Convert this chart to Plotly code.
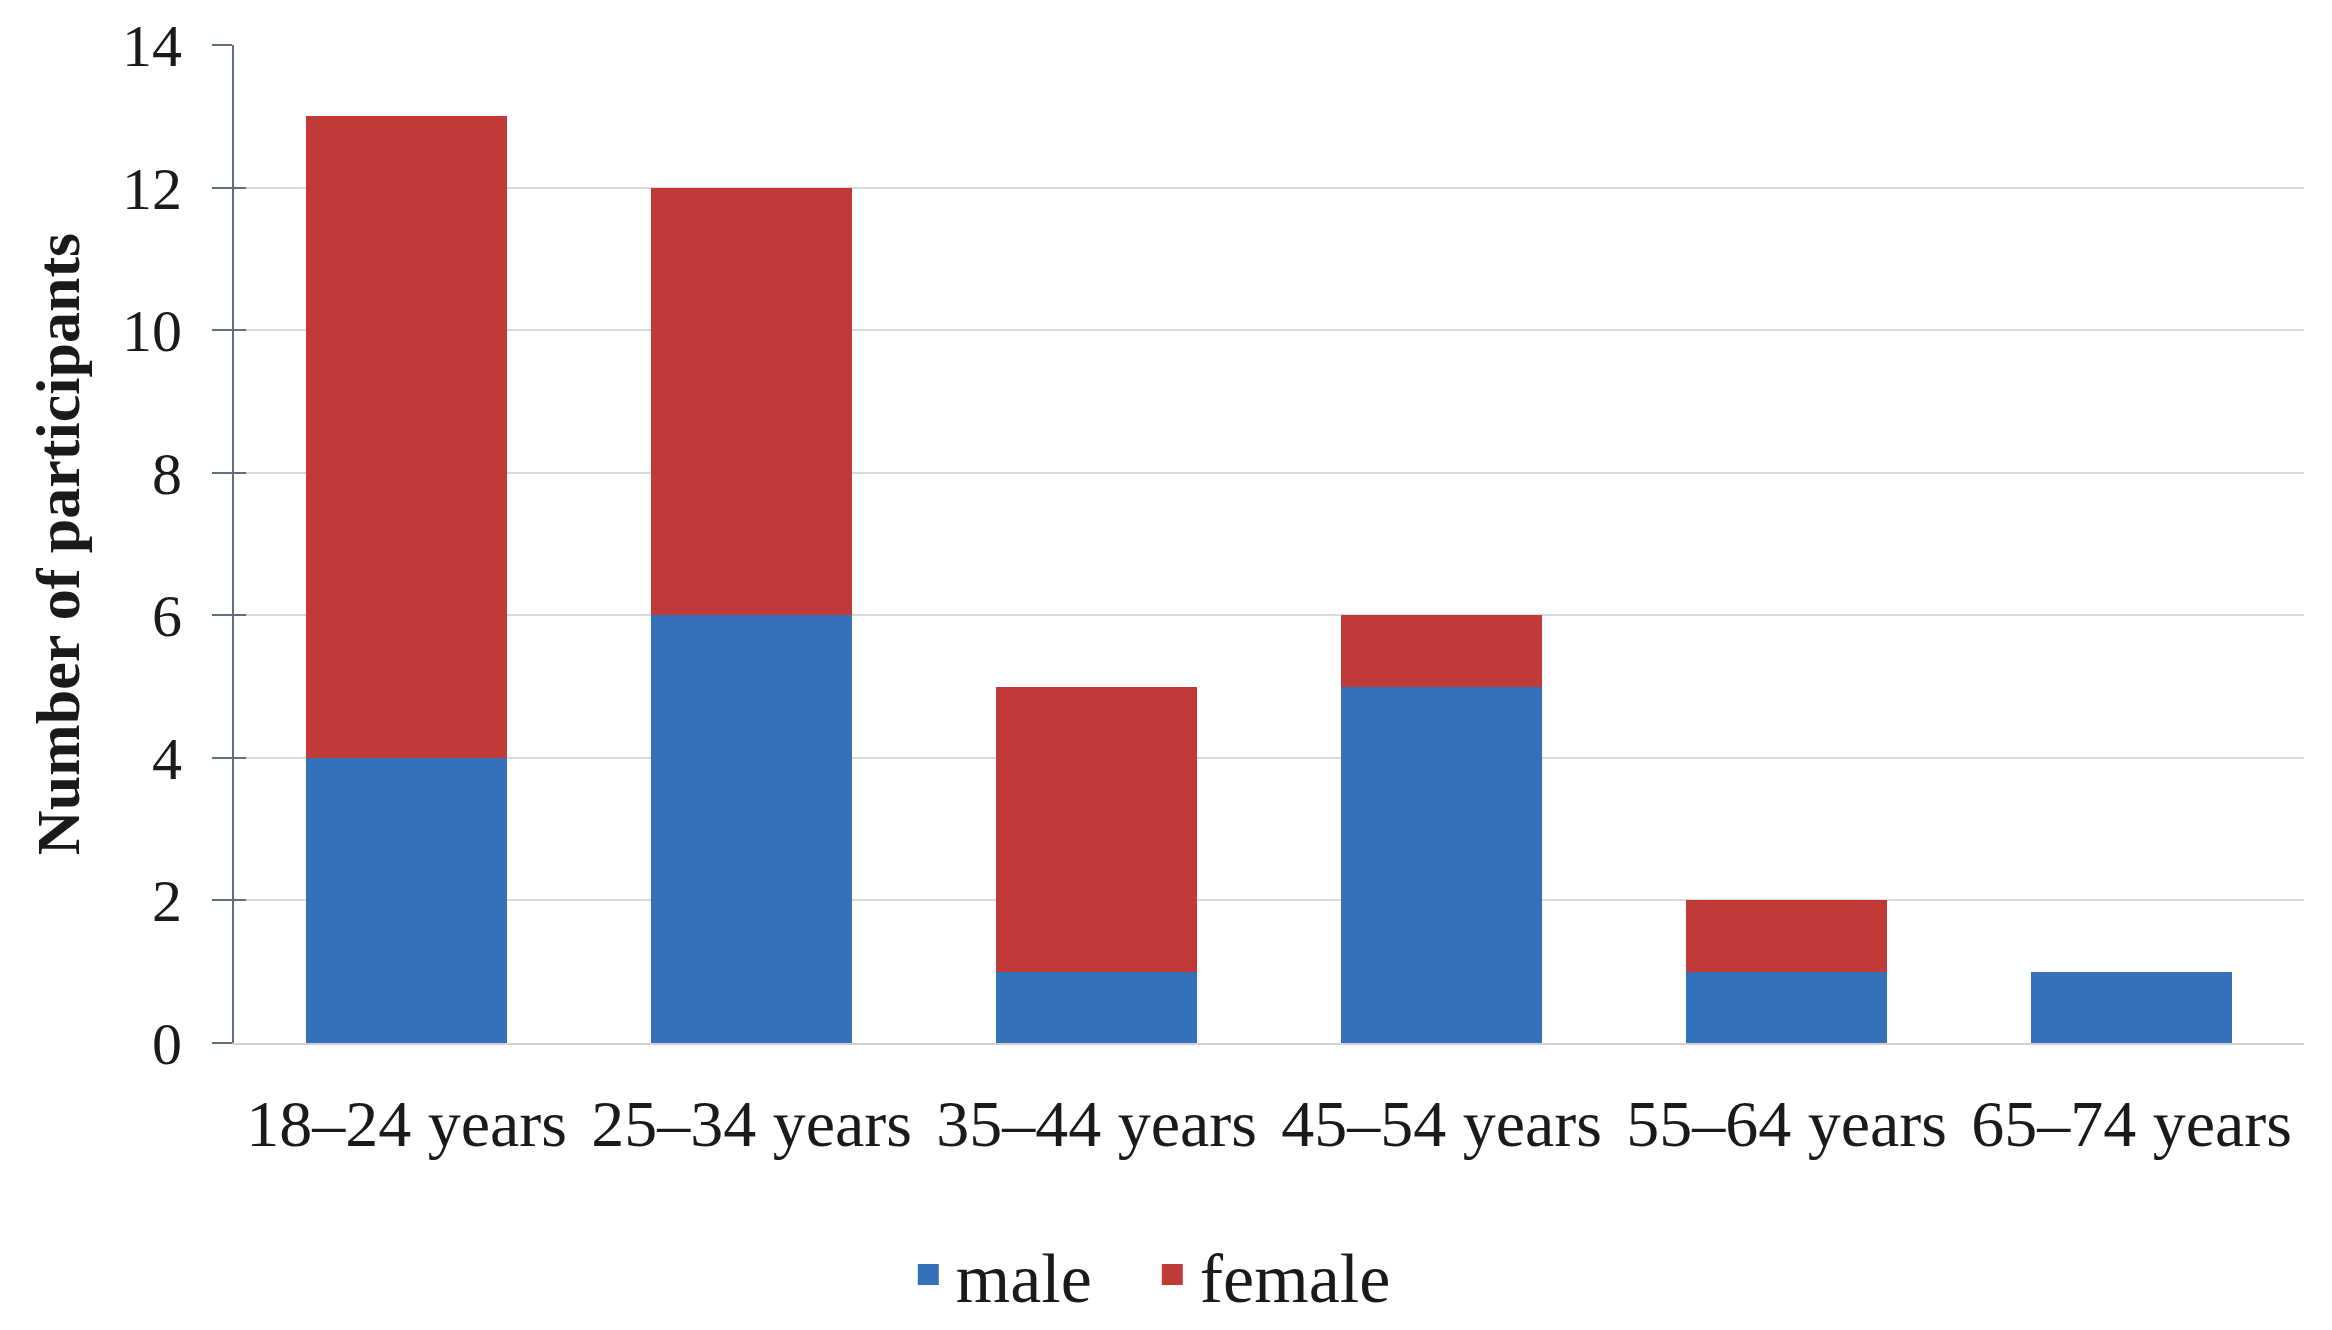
import plotly.graph_objects as go

categories = ["18–24 years", "25–34 years", "35–44 years", "45–54 years", "55–64 years", "65–74 years"]
male = [4, 6, 1, 5, 1, 1]
female = [9, 6, 4, 1, 1, 0]
y_ticks = [0, 2, 4, 6, 8, 10, 12, 14]

FONT = "Liberation Serif"
BLUE = "#3571b8"
RED = "#c03a37"
AXIS = "#5f6f80"

fig = go.Figure()
fig.add_trace(go.Bar(x=categories, y=male, name="male", showlegend=False,
                     marker=dict(color=BLUE, line=dict(width=0))))
fig.add_trace(go.Bar(x=categories, y=female, name="female", showlegend=False,
                     marker=dict(color=RED, line=dict(width=0))))
# legend entries with larger square symbols
fig.add_trace(go.Scatter(x=[None], y=[None], mode="markers", name="male",
                         marker=dict(symbol="square", size=40, color=BLUE,
                                     line=dict(color=BLUE, width=5))))
fig.add_trace(go.Scatter(x=[None], y=[None], mode="markers", name="female",
                         marker=dict(symbol="square", size=40, color=RED,
                                     line=dict(color=RED, width=5))))
# invisible trace on overlay axis to carry inside ticks (ticks crossing the axis)
fig.add_trace(go.Scatter(x=[categories[0]], y=[None], yaxis="y2", showlegend=False,
                         mode="markers", hoverinfo="skip"))

fig.update_layout(
    width=2332, height=1330,
    barmode="stack", bargap=0.42,
    paper_bgcolor="white", plot_bgcolor="white",
    margin=dict(l=226, r=36, t=37, b=293),
    font=dict(family=FONT, size=60, color="#1a1a1a"),
    legend=dict(orientation="h", x=0.44, xanchor="center", y=-0.232, yanchor="middle",
                font=dict(family=FONT, size=70, color="#1a1a1a"),
                itemwidth=45, traceorder="normal", itemsizing="trace",
                entrywidthmode="pixels", entrywidth=184),
    xaxis=dict(showgrid=False, showline=True, linecolor="#d0d0d0", linewidth=2,
               ticks="", ticklabelstandoff=22, automargin=False,
               tickfont=dict(family=FONT, size=66, color="#1a1a1a")),
    yaxis=dict(range=[0, 14], tickvals=y_ticks, showgrid=True, gridcolor="#d9d9d9", gridwidth=2,
               showline=True, linecolor=AXIS, linewidth=2,
               ticks="outside", ticklen=20, tickcolor=AXIS, tickwidth=2,
               ticklabelstandoff=18, zeroline=False, automargin=False,
               ticklabeloverflow="allow",
               tickfont=dict(family=FONT, size=60, color="#1a1a1a"),
               title=dict(text="<b>Number of participants</b>", standoff=22,
                          font=dict(family=FONT, size=62, color="#1a1a1a"))),
    yaxis2=dict(range=[0, 14], tickvals=y_ticks[1:], overlaying="y", side="left",
                showgrid=False, showline=False, zeroline=False, showticklabels=False,
                ticks="inside", ticklen=12, tickcolor=AXIS, tickwidth=2),
)

fig.write_html("out.html")
